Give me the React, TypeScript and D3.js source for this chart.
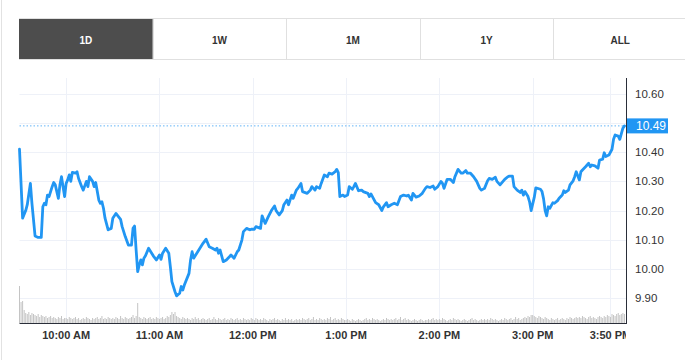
import React from "react";
import * as d3 from "d3";

// minutes after 9:30 AM
const minutes = [0,2,4,5,7,8,10,12,14,15,16,17,18,19,21,22,23,25,26,27,29,30,31,32,33,34,36,37,38,40,41,43,44,45,47,48,49,51,52,53,54,55,57,59,60,62,65,66,68,70,72,73,74,75,76,77,78,79,80,81,83,85,86,88,90,91,92,94,96,97,98,100,101,103,104,105,106,109,110,111,112,114,116,118,120,122,124,126,127,128,129,131,133,135,136,138,140,141,143,144,146,148,149,151,152,155,156,158,160,162,164,165,167,169,170,172,173,175,176,178,179,181,182,185,187,188,190,191,193,194,196,198,199,201,203,204,205,206,208,209,211,212,214,215,216,218,220,221,224,225,226,229,231,233,234,236,237,239,241,243,245,247,249,250,252,253,255,257,259,261,262,264,266,267,269,271,272,273,275,277,279,280,282,284,285,287,288,290,292,294,296,297,299,301,302,304,306,307,309,312,314,315,317,318,320,322,323,324,325,327,328,329,331,332,335,336,337,338,339,340,341,343,344,346,347,349,350,351,353,354,356,357,358,360,361,362,364,366,367,368,370,372,373,375,376,377,379,381,382,383,385,386,388,389];
const prices = [10.41,10.174,10.20,10.22,10.293,10.225,10.113,10.108,10.108,10.213,10.225,10.22,10.253,10.248,10.282,10.296,10.288,10.242,10.288,10.316,10.248,10.293,10.305,10.322,10.30,10.331,10.328,10.333,10.31,10.282,10.27,10.30,10.282,10.316,10.30,10.282,10.296,10.236,10.225,10.23,10.208,10.174,10.134,10.139,10.174,10.19,10.17,10.145,10.111,10.082,10.082,10.139,10.147,10.065,9.991,10.014,10.031,10.014,10.037,10.045,10.071,10.054,10.045,10.031,10.048,10.033,10.054,10.071,10.054,10.008,9.957,9.922,9.908,9.917,9.94,9.928,9.945,9.985,10.031,10.059,10.037,10.054,10.071,10.088,10.102,10.076,10.071,10.065,10.071,10.054,10.065,10.025,10.031,10.042,10.048,10.037,10.059,10.065,10.099,10.128,10.139,10.134,10.136,10.136,10.145,10.139,10.182,10.156,10.179,10.20,10.216,10.20,10.185,10.20,10.22,10.236,10.22,10.253,10.242,10.27,10.276,10.293,10.265,10.259,10.27,10.282,10.27,10.282,10.276,10.293,10.322,10.316,10.328,10.325,10.333,10.341,10.33,10.248,10.253,10.248,10.253,10.282,10.273,10.282,10.293,10.268,10.27,10.265,10.259,10.248,10.257,10.227,10.22,10.20,10.213,10.227,10.213,10.22,10.225,10.22,10.248,10.253,10.25,10.253,10.236,10.259,10.246,10.25,10.259,10.276,10.282,10.279,10.284,10.273,10.282,10.30,10.293,10.276,10.307,10.307,10.296,10.316,10.341,10.328,10.328,10.337,10.328,10.328,10.316,10.30,10.276,10.27,10.276,10.302,10.31,10.307,10.314,10.30,10.288,10.307,10.316,10.318,10.318,10.282,10.27,10.262,10.27,10.253,10.265,10.248,10.23,10.20,10.245,10.278,10.273,10.265,10.24,10.20,10.182,10.213,10.208,10.227,10.225,10.234,10.242,10.253,10.268,10.262,10.27,10.288,10.302,10.316,10.333,10.305,10.333,10.339,10.35,10.362,10.35,10.356,10.353,10.345,10.373,10.376,10.398,10.385,10.39,10.41,10.444,10.459,10.455,10.444,10.482,10.49];

// volume per minute (thousands)
const volumes = [
  37,21,22,13,10,9,11,8,10,9,8,7,9,6,8,7,6,7,5,6,7,5,6,5,4,6,5,7,4,5,
  5,4,6,5,4,5,6,4,5,3,4,5,4,6,5,4,3,5,4,5,6,4,5,7,4,5,4,6,5,4,
  5,4,6,5,4,7,5,4,6,5,4,5,6,8,5,7,20,6,5,4,6,5,4,5,6,4,5,4,6,5,
  4,5,6,4,5,7,6,8,11,9,11,7,6,5,4,6,5,4,5,4,3,5,4,6,4,5,3,4,5,4,
  3,4,5,3,4,6,4,3,5,4,3,4,5,3,4,3,5,4,3,4,5,3,4,3,5,4,3,4,3,5,
  4,3,5,4,3,4,3,5,4,3,2,4,3,4,5,3,4,3,2,4,3,5,3,4,3,4,2,3,4,3,
  4,3,5,4,3,4,5,3,4,6,3,4,3,5,4,3,4,3,5,4,6,3,4,5,3,4,3,5,4,3,
  3,4,3,2,4,3,2,3,4,3,2,3,4,5,3,4,3,5,4,3,4,3,2,3,4,3,5,4,3,4,
  3,4,5,3,4,6,3,4,5,3,4,3,2,3,4,3,2,3,4,3,2,3,3,4,3,4,5,3,4,3,
  4,3,5,4,3,2,3,4,3,5,4,3,4,3,2,3,4,3,2,3,4,5,3,4,3,2,3,4,3,4,
  3,4,3,5,4,3,4,3,2,3,4,3,5,4,3,4,5,3,4,6,4,5,3,4,5,6,5,7,6,8,
  8,7,6,5,7,6,5,4,6,5,4,3,5,4,3,4,5,3,4,5,4,3,5,4,6,5,4,5,6,5,
  6,5,7,6,5,4,6,7,5,6,5,4,6,7,6,5,7,6,8,7,6,9,8,7,9,10,8,9,10,9,
];

const timeTicks = [30, 90, 150, 210, 270, 330, 380];
const timeLabels = ["10:00 AM", "11:00 AM", "12:00 PM", "1:00 PM", "2:00 PM", "3:00 PM", "3:50 PM"];
const priceTicks = [9.9, 10.0, 10.1, 10.2, 10.3, 10.4, 10.5, 10.6];
const lastPrice = 10.49;
const tabs = ["1D", "1W", "1M", "1Y", "ALL"];

const W = 685, H = 360;
const L = 19.5, R = 626, T = 78, B = 323;
const BLUE = "#2196f3";

export default function App() {
  const x = d3.scaleLinear().domain([0, 390]).range([L, R]);
  const y = d3.scaleLinear().domain([9.815, 10.654]).range([B, T]);
  const vy = d3.scaleLinear().domain([0, 40]).range([0, 40]);
  const line = d3.line<number>().x((_, i) => x(minutes[i])).y((d) => y(d));
  const tabX = d3.scaleBand().domain(tabs).range([19, 687]);
  const font = "'Liberation Sans', Arial, sans-serif";

  return (
    <svg width={W} height={H} style={{ position: "absolute", left: 0, top: 0, background: "#fff" }} fontFamily={font}>
      <defs>
        <clipPath id="plotclip"><rect x={0} y={0} width={R} height={H} /></clipPath>
      </defs>
      <line x1={1.5} x2={1.5} y1={0} y2={H} stroke="#e2e2e2" />
      {/* tabs */}
      <line x1={19} x2={W} y1={18.5} y2={18.5} stroke="#e0e0e0" />
      <line x1={19} x2={W} y1={59.5} y2={59.5} stroke="#e0e0e0" />
      {tabs.map((t, i) => {
        const x0 = tabX(t)!;
        const w = tabX.bandwidth();
        return (
          <g key={t}>
            {i === 0 && <rect x={x0} y={19} width={w} height={40} fill="#4d4d4d" />}
            {i > 0 && <line x1={Math.round(x0) + 0.5} x2={Math.round(x0) + 0.5} y1={19} y2={59} stroke="#e0e0e0" />}
            <text x={x0 + w / 2} y={40} textAnchor="middle" dominantBaseline="central" fontSize={10} fontWeight="bold" fill={i === 0 ? "#fff" : "#333"}>{t}</text>
          </g>
        );
      })}
      {/* grid */}
      {priceTicks.map((p) => (
        <line key={"h" + p} x1={L} x2={R} y1={Math.round(y(p)) + 0.5} y2={Math.round(y(p)) + 0.5} stroke="#eef1f8" />
      ))}
      {timeTicks.map((m) => (
        <line key={"v" + m} x1={Math.round(x(m)) + 0.5} x2={Math.round(x(m)) + 0.5} y1={T} y2={B} stroke="#eef1f8" />
      ))}
      {/* volume */}
      {volumes.map((v, i) => (
        <rect key={"vol" + i} x={x(i) - 0.5} y={B - vy(v)} width={1} height={vy(v)} fill="#c4c4c4" />
      ))}
      {/* last price dotted line */}
      <line x1={L} x2={R} y1={y(lastPrice)} y2={y(lastPrice)} stroke={BLUE} strokeOpacity={0.7} strokeDasharray="1.5,2" strokeWidth={1} />
      {/* price line */}
      <path d={line(prices) || ""} fill="none" stroke={BLUE} strokeWidth={2.8} strokeLinejoin="round" strokeLinecap="round" />
      {/* axes */}
      <line x1={L} x2={R} y1={B + 0.5} y2={B + 0.5} stroke="#2a2e39" />
      <line x1={R + 0.5} x2={R + 0.5} y1={T} y2={B + 1} stroke="#2a2e39" />
      {priceTicks.map((p) => (
        <text key={"yl" + p} x={635} y={y(p)} dominantBaseline="central" fontSize={11.5} fill="#333">{p.toFixed(2)}</text>
      ))}
      <rect x={R + 1} y={y(lastPrice) - 7.5} width={41} height={15} fill={BLUE} />
      <text x={636} y={y(lastPrice)} dominantBaseline="central" fontSize={12} fill="#fff">{lastPrice.toFixed(2)}</text>
      <g clipPath="url(#plotclip)">
        {timeTicks.map((m, i) => (
          <text key={"xl" + m} x={x(m)} y={335} textAnchor="middle" dominantBaseline="central" fontSize={11} fontWeight="bold" fill="#333">{timeLabels[i]}</text>
        ))}
      </g>
    </svg>
  );
}
